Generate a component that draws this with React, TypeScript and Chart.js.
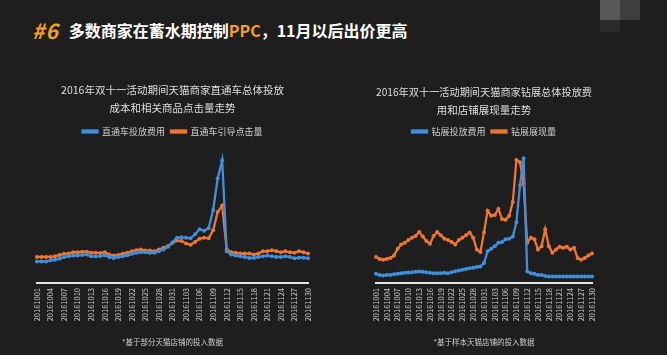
import React, { useEffect, useRef } from "react";
import { Chart, registerables } from "chart.js";

Chart.register(...registerables);

const FONT = "'Noto Sans CJK SC', 'Noto Sans', sans-serif";
const BLUE = "#3f8fdb";
const ORANGE = "#ec7632";
const BG = "#1f1e1e";

// 2016-10-01 .. 2016-11-30
const dates = [
  "20161001", "20161002", "20161003", "20161004", "20161005", "20161006", "20161007", "20161008",
  "20161009", "20161010", "20161011", "20161012", "20161013", "20161014", "20161015", "20161016",
  "20161017", "20161018", "20161019", "20161020", "20161021", "20161022", "20161023", "20161024",
  "20161025", "20161026", "20161027", "20161028", "20161029", "20161030", "20161031",
  "20161101", "20161102", "20161103", "20161104", "20161105", "20161106", "20161107", "20161108",
  "20161109", "20161110", "20161111", "20161112", "20161113", "20161114", "20161115", "20161116",
  "20161117", "20161118", "20161119", "20161120", "20161121", "20161122", "20161123", "20161124",
  "20161125", "20161126", "20161127", "20161128", "20161129", "20161130",
];
const tickStep = 3;

// Left chart: 直通车
const leftTitle = ["2016年双十一活动期间天猫商家直通车总体投放", "成本和相关商品点击量走势"];
const leftCostLabel = "直通车投放费用";
const leftClickLabel = "直通车引导点击量";
const leftNote = "*基于部分天猫店铺的投入数据";
const leftCost = [
  21.3, 21.3, 21.3, 22.3, 23, 24, 25.7, 26.3, 27, 27, 27.7, 28, 26.3, 26.3, 26.5, 27.3,
  25.7, 24.7, 25.5, 26.3, 27.3, 28.7, 29.7, 30.3, 30.3, 29.7, 29.7, 31.3, 33, 35.7, 40,
  44.7, 45, 44.5, 44, 48, 53, 51.5, 54, 72, 103, 121, 31.3, 28, 27, 26.3, 25.7,
  24.7, 24.7, 25.7, 26.3, 27, 26.3, 25.7, 25.7, 26.3, 25.7, 24.3, 25, 25, 24.3,
];
const leftClicks = [
  25.7, 25.7, 25.7, 25.7, 26.3, 27.7, 28.7, 29, 30.3, 30.3, 30.7, 30.7, 29.7, 29.7, 29.5, 30.3,
  28, 27, 27.7, 28.7, 29.7, 31.3, 32.3, 33, 32, 32, 31.3, 33, 34.7, 36.3, 39.7,
  42, 41.3, 39, 37.7, 40.3, 43.7, 44.7, 44, 52, 70, 76.3, 33, 30.3, 29.7, 29, 29,
  29, 28, 29, 31.3, 31.3, 32.3, 31.3, 30.3, 31.3, 30.3, 29.7, 31.3, 30.3, 29,
];

// Right chart: 钻展
const rightTitle = ["2016年双十一活动期间天猫商家钻展总体投放费", "用和店铺展现量走势"];
const rightCostLabel = "钻展投放费用";
const rightImprLabel = "钻展展现量";
const rightNote = "*基于样本天猫店铺的投入数据";
const rightCost = [
  9, 8, 7.5, 8, 8, 8.5, 9, 9.5, 10, 10.3, 10.5, 11, 11.3, 11, 10.5, 10,
  9.7, 9.7, 9.7, 10, 9.5, 10.5, 11.5, 12.3, 13, 13.7, 14.5, 15, 15.7, 16.3, 19.7,
  31.3, 33.7, 36.3, 39.7, 40.3, 43, 43.7, 45.7, 59.7, 96.3, 123, 11.3, 9.7, 9, 8, 8,
  7, 6.5, 6.5, 6.3, 6.3, 6.3, 6.5, 6.3, 6.3, 6.3, 6.5, 6.3, 6.3, 6.3,
];
const rightImpr = [
  25.7, 23.7, 23, 23.7, 24.7, 27, 33.7, 38, 39.7, 42.3, 44.7, 46.3, 50.3, 45.7, 41.3, 38.7,
  46.3, 50.3, 47, 43.7, 42.3, 40.3, 38, 42.3, 44.7, 47, 49.7, 44.7, 33, 30.5, 49.7,
  71.3, 66.3, 67, 73, 63, 62.3, 66.3, 79.7, 121.3, 119, 98, 39.7, 44.7, 43, 33, 36.3,
  53, 36.3, 29.7, 33, 35.7, 34.7, 35.7, 33, 34.7, 24.7, 23, 24.7, 27, 29,
];

const yMax = 135;

function makeConfig(
  title: string[],
  titleTop: number,
  titleBottom: number,
  costLabel: string,
  cost: number[],
  otherLabel: string,
  other: number[],
  note: string,
  padLeft: number,
  padRight: number
): any {
  const ds = (label: string, data: number[], color: string) => ({
    label,
    data,
    borderColor: color,
    backgroundColor: color,
    borderWidth: 2.3,
    pointRadius: 2,
    pointBorderWidth: 0,
    pointBackgroundColor: color,
    tension: 0,
  });
  return {
    type: "line",
    data: {
      labels: dates,
      datasets: [ds(costLabel, cost, BLUE), ds(otherLabel, other, ORANGE)],
    },
    options: {
      responsive: false,
      animation: false,
      devicePixelRatio: 1,
      layout: { padding: { left: padLeft, right: padRight, top: 0, bottom: 0 } },
      plugins: {
        title: {
          display: true,
          text: title,
          color: "#dedede",
          font: { family: FONT, size: 10.5, weight: "normal", lineHeight: 18 / 10.5 },
          padding: { top: titleTop, bottom: titleBottom },
        },
        legend: {
          display: true,
          labels: {
            color: "#d0d0d0",
            font: { family: FONT, size: 9 },
            boxWidth: 15,
            boxHeight: 2,
            padding: 6,
          },
        },
        subtitle: {
          display: true,
          position: "bottom",
          text: note,
          color: "#cfcfcf",
          font: { family: FONT, size: 7.5, weight: "normal", lineHeight: 1.2 },
          padding: { top: 0, bottom: 8 },
        },
        tooltip: { enabled: false },
      },
      scales: {
        x: {
          offset: false,
          grid: { display: false, drawTicks: false },
          border: { display: true, color: "#e4e4e4", width: 2 },
          ticks: {
            color: "#c8c8c8",
            font: { family: FONT, size: 7.5 },
            autoSkip: false,
            minRotation: 90,
            maxRotation: 90,
            padding: 5,
            callback: (_v: any, i: number) => (i % tickStep === 0 ? dates[i] : ""),
          },
          afterFit: (scale: any) => {
            scale.height = 55;
          },
        },
        y: {
          display: false,
          min: 0,
          max: yMax,
        },
      },
    },
  };
}

function ChartBox(props: { left: number; width: number; config: any }) {
  const ref = useRef<HTMLCanvasElement | null>(null);
  useEffect(() => {
    if (!ref.current) return;
    const chart = new Chart(ref.current, props.config);
    return () => chart.destroy();
  }, []);
  return (
    <canvas
      ref={ref}
      width={props.width}
      height={295}
      style={{ position: "absolute", left: props.left, top: 60, width: props.width, height: 295 }}
    />
  );
}

export default function App() {
  const leftCfg = makeConfig(leftTitle, 21, 4, leftCostLabel, leftCost, leftClickLabel, leftClicks, leftNote, 37, 32);
  const rightCfg = makeConfig(rightTitle, 23, 2, rightCostLabel, rightCost, rightImprLabel, rightImpr, rightNote, 36, 75);
  return (
    <div style={{ position: "fixed", left: 0, top: 0, width: 667, height: 355, background: BG, overflow: "hidden" }}>
      <div style={{ position: "absolute", left: 600, top: 0, width: 20, height: 20, background: "#575757" }} />
      <div style={{ position: "absolute", left: 620, top: 0, width: 20, height: 20, background: "#3e3e3e" }} />
      <div style={{ position: "absolute", left: 600, top: 20, width: 20, height: 12, background: "#2b2b2b" }} />
      <div
        style={{
          position: "absolute",
          left: 32,
          top: 0,
          height: 60,
          display: "flex",
          alignItems: "center",
          whiteSpace: "nowrap",
          fontFamily: FONT,
          fontWeight: 700,
          color: "#ffffff",
        }}
      >
        <span style={{ color: "#f2a02a", fontSize: 21, letterSpacing: 1, fontStyle: "italic" }}>#6</span>
        <span style={{ fontSize: 16, marginLeft: 10 }}>
          多数商家在蓄水期控制<span style={{ color: "#f2a02a" }}>PPC</span>，11月以后出价更高
        </span>
      </div>
      <ChartBox left={0} width={340} config={leftCfg} />
      <ChartBox left={340} width={327} config={rightCfg} />
    </div>
  );
}
